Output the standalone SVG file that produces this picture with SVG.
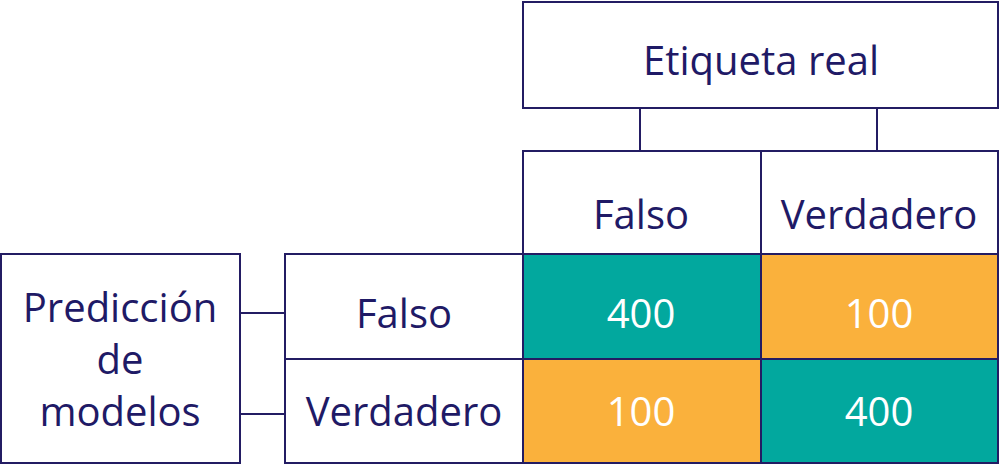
<svg xmlns="http://www.w3.org/2000/svg" width="1000" height="466" viewBox="0 0 1000 466">
<style>
.b{fill:#fff;stroke:#231c63;stroke-width:2}
.t{fill:#fab13c;stroke:#231c63;stroke-width:2}
.g{fill:#02a89e;stroke:#231c63;stroke-width:2}
.c{stroke:#231c63;stroke-width:2;fill:none}
text{font-family:"Open Sans","Noto Sans",sans-serif;font-size:40px;text-anchor:middle;fill:#1f1a66}
.w{fill:#fff}
</style>
<rect width="1000" height="466" fill="#fff"/>
<g id="connectors">
<line class="c" x1="640" y1="108" x2="640" y2="151"/>
<line class="c" x1="877" y1="108" x2="877" y2="151"/>
<line class="c" x1="240" y1="313" x2="285" y2="313"/>
<line class="c" x1="240" y1="414" x2="285" y2="414"/>
</g>
<g id="etiqueta-real"><rect class="b" x="523" y="2" width="475" height="106"/><text x="761" y="75">Etiqueta real</text></g>
<g id="col-falso"><rect class="b" x="523" y="151" width="238" height="103"/><text x="641" y="229">Falso</text></g>
<g id="col-verdadero"><rect class="b" x="761" y="151" width="237" height="103"/><text x="879" y="229">Verdadero</text></g>
<g id="prediccion"><rect class="b" x="1" y="254" width="239" height="209"/><text x="120" y="322">Predicción</text><text x="120" y="374">de</text><text x="120" y="426">modelos</text></g>
<g id="row-falso"><rect class="b" x="285" y="254" width="238" height="105"/><text x="404" y="328">Falso</text></g>
<g id="row-verdadero"><rect class="b" x="285" y="359" width="238" height="104"/><text x="404" y="426">Verdadero</text></g>
<g id="ff"><rect class="g" x="523" y="254" width="238" height="105"/><text class="w" x="641" y="328">400</text></g>
<g id="fv"><rect class="t" x="761" y="254" width="237" height="105"/><text class="w" x="879" y="328">100</text></g>
<g id="vf"><rect class="t" x="523" y="359" width="238" height="104"/><text class="w" x="641" y="426">100</text></g>
<g id="vv"><rect class="g" x="761" y="359" width="237" height="104"/><text class="w" x="879" y="426">400</text></g>
</svg>
